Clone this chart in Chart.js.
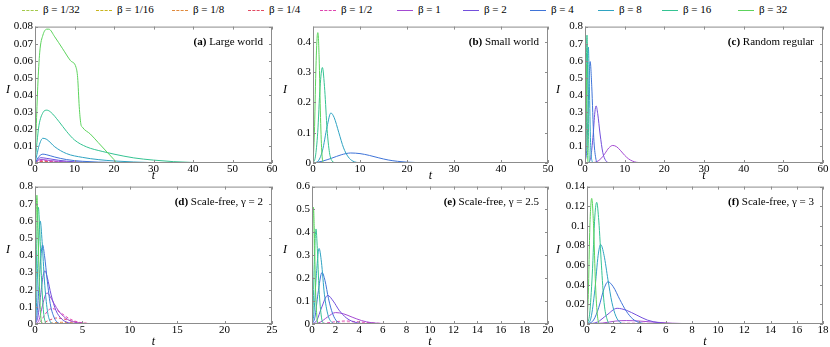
<!DOCTYPE html>
<html>
<head>
<meta charset="utf-8">
<script src="https://cdn.jsdelivr.net/npm/chart.js@4"></script>
<style>
  body { margin: 0; background: #fff; }
  #wrap { position: relative; width: 830px; height: 347px; overflow: hidden; }
  canvas { position: absolute; }
  #legend { position: absolute; left: 0; top: 1px; width: 830px; height: 16px; font: 11px "Liberation Serif", serif; }
  .item { position: absolute; top: 0; white-space: nowrap; line-height: 16px; }
  .swatch { display: inline-block; width: 16px; height: 0; border-top: 1px solid; vertical-align: middle; margin-right: 5px; }
</style>
</head>
<body>
<div id="wrap">
  <div id="legend"></div>
  <canvas id="pa" width="280" height="165" style="left:0;top:18px"></canvas>
  <canvas id="pb" width="277" height="165" style="left:277px;top:18px"></canvas>
  <canvas id="pc" width="280" height="165" style="left:550px;top:18px"></canvas>
  <canvas id="pd" width="280" height="169" style="left:0;top:178px"></canvas>
  <canvas id="pe" width="277" height="169" style="left:277px;top:178px"></canvas>
  <canvas id="pf" width="280" height="169" style="left:550px;top:178px"></canvas>
</div>
<script>
// series order: beta = 1/32, 1/16, 1/8, 1/4, 1/2, 1, 2, 4, 8, 16, 32
const betas = ["β = 1/32", "β = 1/16", "β = 1/8", "β = 1/4", "β = 1/2", "β = 1", "β = 2", "β = 4", "β = 8", "β = 16", "β = 32"];

// each series is a list of [t, I] points
const largeWorld = [
  [[0,0],[1,0.0003],[3,0.0004],[6,0.0002],[15,0],[60,0]],
  [[0,0],[1,0.0004],[3,0.0006],[6,0.0003],[15,0],[60,0]],
  [[0,0],[1,0.0006],[2.5,0.0008],[6,0.0004],[15,0.0001],[60,0]],
  [[0,0],[1,0.0008],[2,0.0011],[5,0.0006],[15,0.0001],[60,0]],
  [[0,0],[1,0.0012],[2,0.0015],[5,0.0008],[15,0.0001],[60,0]],
  [[0,0],[0.7,0.0015],[1.5,0.0021],[4,0.0014],[8,0.0006],[15,0.0001],[60,0]],
  [[0,0],[0.7,0.002],[1.5,0.0031],[3,0.0027],[6,0.0016],[10,0.0007],[20,0.0001],[60,0]],
  [[0,0],[0.5,0.002],[1,0.0038],[2,0.0052],[3,0.0048],[5,0.0035],[8,0.002],[12,0.001],[20,0.0003],[30,0],[60,0]],
  [[0,0],[0.5,0.005],[1,0.01],[2,0.0145],[3,0.0138],[5,0.0095],[8,0.0055],[12,0.0033],[16,0.002],[20,0.0012],[25,0.0006],[30,0.0002],[40,0],[60,0]],
  [[0,0],[0.5,0.012],[1,0.022],[2,0.0295],[3,0.031],[4,0.0298],[6,0.0245],[8,0.0185],[10,0.0135],[13,0.0095],[17,0.0068],[20,0.0052],[25,0.003],[30,0.0017],[35,0.0008],[40,0.0003],[45,0],[60,0]],
  [[0,0],[0.3,0.02],[0.7,0.045],[1.2,0.065],[2,0.075],[3,0.0785],[3.5,0.0785],[5,0.074],[7,0.067],[9,0.06],[10.4,0.056],[10.8,0.05],[11.2,0.033],[11.6,0.023],[12,0.021],[14,0.017],[16,0.012],[18,0.007],[20,0.002],[20.8,0],[60,0]]
];

const smallWorld = [
  [[0,0],[10,0.0002],[25,0.0001],[50,0]],
  [[0,0],[10,0.0003],[25,0.0001],[50,0]],
  [[0,0],[10,0.0004],[25,0.0002],[50,0]],
  [[0,0],[10,0.0006],[25,0.0003],[50,0]],
  [[0,0],[10,0.0008],[25,0.0004],[50,0.0001]],
  [[0,0],[10,0.001],[25,0.0006],[50,0.0002]],
  [[0,0],[10,0.0015],[20,0.0015],[30,0.001],[40,0.0005],[50,0.0002]],
  [[0,0],[2,0.006],[4,0.016],[6,0.027],[8,0.033],[10,0.031],[12,0.025],[14,0.017],[16,0.01],[18,0.0055],[20,0.0028],[24,0.0008],[30,0.0001],[35,0],[50,0]],
  [[0,0],[1,0.005],[2,0.04],[3,0.12],[3.8,0.165],[4.5,0.15],[5.5,0.1],[6.5,0.05],[7.5,0.02],[8.5,0.006],[10,0.001],[12,0],[50,0]],
  [[0,0],[0.5,0.02],[1,0.1],[1.5,0.25],[2,0.315],[2.5,0.24],[3,0.11],[3.5,0.035],[4,0.008],[5,0],[50,0]],
  [[0,0],[0.3,0.1],[0.6,0.3],[0.9,0.42],[1.05,0.43],[1.3,0.35],[1.6,0.15],[1.9,0.03],[2.3,0],[50,0]]
];

const randomRegular = [
  [[0,0],[60,0]],
  [[0,0],[60,0]],
  [[0,0],[60,0]],
  [[0,0],[10,0.0002],[60,0]],
  [[0,0],[15,0.0005],[30,0.0002],[60,0]],
  [[0,0],[2,0.002],[3,0.008],[4,0.025],[5,0.055],[6,0.088],[7,0.103],[8,0.095],[9,0.072],[10,0.045],[11,0.024],[12,0.011],[13,0.004],[15,0.001],[17,0],[60,0]],
  [[0,0],[1,0.005],[1.5,0.04],[2,0.15],[2.5,0.3],[2.8,0.335],[3.2,0.29],[3.8,0.17],[4.5,0.06],[5.2,0.015],[6,0.002],[7,0],[60,0]],
  [[0,0],[0.5,0.1],[0.9,0.4],[1.3,0.595],[1.7,0.45],[2.2,0.15],[2.7,0.03],[3.2,0],[60,0]],
  [[0,0],[0.3,0.15],[0.6,0.55],[0.85,0.68],[1.1,0.45],[1.4,0.12],[1.8,0.01],[2.2,0],[60,0]],
  [[0,0],[0.2,0.3],[0.5,0.75],[0.7,0.5],[0.95,0.1],[1.2,0.005],[1.5,0],[60,0]],
  [[0,0],[0.1,0.3],[0.25,0.58],[0.4,0.35],[0.6,0.08],[0.8,0],[60,0]]
];

const scaleFree2 = [
  [[0,0],[3,0.0005],[5,0.001],[8,0.0005],[15,0],[25,0]],
  [[0,0],[2,0.001],[3.5,0.003],[5,0.002],[8,0.0005],[12,0],[25,0]],
  [[0,0],[1.5,0.004],[2.8,0.01],[4,0.007],[5.5,0.003],[8,0],[25,0]],
  [[0,0],[0.8,0.005],[1.5,0.022],[2.3,0.035],[3,0.03],[3.8,0.018],[4.5,0.009],[5.5,0.003],[7,0],[25,0]],
  [[0,0],[0.5,0.01],[1,0.05],[1.4,0.08],[1.8,0.09],[2.2,0.083],[2.8,0.062],[3.5,0.035],[4.2,0.017],[5,0.007],[6,0.002],[7,0],[25,0]],
  [[0,0],[0.4,0.02],[0.8,0.11],[1.1,0.17],[1.3,0.18],[1.6,0.16],[2,0.12],[2.5,0.075],[3,0.045],[3.5,0.025],[4,0.013],[5,0.004],[6,0.001],[7,0],[25,0]],
  [[0,0],[0.3,0.04],[0.6,0.17],[0.85,0.28],[1.05,0.31],[1.3,0.27],[1.7,0.17],[2.2,0.08],[2.8,0.03],[3.5,0.008],[4.5,0.001],[5,0],[25,0]],
  [[0,0],[0.2,0.05],[0.4,0.2],[0.6,0.38],[0.8,0.46],[1,0.4],[1.3,0.25],[1.6,0.12],[2,0.04],[2.4,0.008],[3,0],[25,0]],
  [[0,0],[0.15,0.1],[0.3,0.35],[0.55,0.6],[0.75,0.48],[1,0.25],[1.3,0.08],[1.6,0.015],[2,0],[25,0]],
  [[0,0],[0.1,0.2],[0.2,0.5],[0.35,0.68],[0.5,0.55],[0.7,0.25],[0.9,0.07],[1.1,0.01],[1.3,0],[25,0]],
  [[0,0],[0.1,0.55],[0.2,0.75],[0.3,0.6],[0.45,0.25],[0.6,0.05],[0.8,0],[25,0]]
];

const scaleFree25 = [
  [[0,0],[4,0.0005],[8,0.0003],[14,0],[20,0]],
  [[0,0],[3,0.0008],[6,0.0005],[12,0],[20,0]],
  [[0,0],[3,0.0012],[6,0.0008],[12,0.0001],[20,0]],
  [[0,0],[2,0.002],[3.5,0.003],[5,0.002],[8,0.0005],[12,0],[20,0]],
  [[0,0],[1,0.003],[2,0.01],[2.8,0.013],[3.8,0.01],[5,0.005],[6.5,0.0015],[8,0],[20,0]],
  [[0,0],[0.7,0.008],[1.3,0.03],[2,0.05],[2.7,0.044],[3.4,0.03],[4.2,0.015],[5,0.006],[6,0.002],[7.5,0],[20,0]],
  [[0,0],[0.4,0.015],[0.8,0.07],[1.33,0.125],[1.8,0.1],[2.3,0.06],[2.9,0.027],[3.5,0.01],[4.2,0.002],[5,0],[20,0]],
  [[0,0],[0.25,0.03],[0.5,0.13],[0.85,0.225],[1.1,0.19],[1.4,0.11],[1.75,0.045],[2.1,0.012],[2.6,0.001],[3,0],[20,0]],
  [[0,0],[0.15,0.04],[0.35,0.2],[0.6,0.33],[0.8,0.27],[1.05,0.13],[1.35,0.04],[1.7,0.006],[2,0],[20,0]],
  [[0,0],[0.1,0.08],[0.2,0.28],[0.34,0.415],[0.45,0.33],[0.6,0.15],[0.8,0.03],[1,0.003],[1.2,0],[20,0]],
  [[0,0],[0.06,0.35],[0.12,0.51],[0.2,0.4],[0.3,0.15],[0.42,0.03],[0.55,0],[20,0]]
];

const scaleFree3 = [
  [[0,0],[5,0.0002],[10,0],[18,0]],
  [[0,0],[4,0.0003],[9,0.0001],[18,0]],
  [[0,0],[4,0.0004],[9,0.0001],[18,0]],
  [[0,0],[3.5,0.0005],[7,0.0002],[12,0],[18,0]],
  [[0,0],[2,0.0005],[3.5,0.0008],[5,0.0006],[8,0.0002],[12,0],[18,0]],
  [[0,0],[1.2,0.001],[2.2,0.003],[3,0.0035],[4,0.003],[5,0.002],[6.5,0.0008],[8,0.0002],[10,0],[18,0]],
  [[0,0],[0.8,0.002],[1.5,0.009],[2.3,0.016],[3,0.014],[3.8,0.009],[4.6,0.004],[5.5,0.0013],[6.5,0.0002],[7,0],[18,0]],
  [[0,0],[0.5,0.004],[0.9,0.017],[1.3,0.036],[1.6,0.043],[2,0.038],[2.5,0.025],[3,0.013],[3.5,0.005],[4,0.0015],[4.6,0],[18,0]],
  [[0,0],[0.3,0.006],[0.6,0.035],[0.85,0.07],[1.04,0.081],[1.3,0.07],[1.6,0.045],[1.9,0.022],[2.2,0.008],[2.6,0.001],[3,0],[18,0]],
  [[0,0],[0.2,0.01],[0.4,0.05],[0.6,0.11],[0.74,0.124],[0.9,0.105],[1.1,0.06],[1.3,0.022],[1.55,0.004],[1.8,0],[18,0]],
  [[0,0],[0.1,0.03],[0.22,0.1],[0.36,0.128],[0.5,0.1],[0.65,0.04],[0.8,0.008],[1,0],[18,0]]
];

// axis ticks
const ticksA = { x: [0,10,20,30,40,50,60], y: [0,0.01,0.02,0.03,0.04,0.05,0.06,0.07,0.08] };
const ticksB = { x: [0,10,20,30,40,50], y: [0,0.1,0.2,0.3,0.4] };
const ticksC = { x: [0,10,20,30,40,50,60], y: [0,0.1,0.2,0.3,0.4,0.5,0.6,0.7,0.8] };
const ticksD = { x: [0,5,10,15,20,25], y: [0,0.1,0.2,0.3,0.4,0.5,0.6,0.7,0.8] };
const ticksE = { x: [0,2,4,6,8,10,12,14,16,18,20], y: [0,0.1,0.2,0.3,0.4,0.5,0.6] };
const ticksF = { x: [0,2,4,6,8,10,12,14,16,18], y: [0,0.02,0.04,0.06,0.08,0.1,0.12,0.14] };

const colors = ["#a3c94a", "#c9b51e", "#e08a3c", "#e24a62", "#df45b0", "#a44ad2", "#7350dc", "#3f74d8", "#2fa3c2", "#35c392", "#5cd35c"];
const dashed = [true, true, true, true, true, false, false, false, false, false, false];
const SERIF = '"Liberation Serif", "Times New Roman", serif';

// legend
const legendLefts = [22, 96, 172, 248, 320, 397, 463, 530, 598, 662, 738];
const legend = document.getElementById("legend");
betas.forEach((b, i) => {
  const d = document.createElement("div");
  d.className = "item";
  d.style.left = legendLefts[i] + "px";
  d.innerHTML = '<span class="swatch" style="border-top-color:' + colors[i] + ';border-top-style:' + (dashed[i] ? "dashed" : "solid") + '"></span>' + b;
  legend.appendChild(d);
});

// frame, inward ticks, axis titles and panel label
const framePlugin = {
  id: "frame",
  afterDraw(chart) {
    const { ctx, chartArea: a, scales } = chart;
    const o = chart.options.plugins.frame;
    ctx.save();
    ctx.strokeStyle = "#8c8c8c";
    ctx.lineWidth = 1;
    ctx.strokeRect(a.left + 0.5, a.top + 0.5, a.right - a.left - 1, a.bottom - a.top - 1);
    ctx.beginPath();
    scales.x.ticks.forEach(t => {
      const px = Math.round(scales.x.getPixelForValue(t.value)) + 0.5;
      ctx.moveTo(px, a.bottom); ctx.lineTo(px, a.bottom - 3);
      ctx.moveTo(px, a.top); ctx.lineTo(px, a.top + 3);
    });
    scales.y.ticks.forEach(t => {
      const py = Math.round(scales.y.getPixelForValue(t.value)) + 0.5;
      ctx.moveTo(a.left, py); ctx.lineTo(a.left + 3, py);
      ctx.moveTo(a.right, py); ctx.lineTo(a.right - 3, py);
    });
    ctx.stroke();
    ctx.fillStyle = "#000";
    ctx.font = "italic 12px " + SERIF;
    ctx.textAlign = "center";
    ctx.textBaseline = "middle";
    ctx.fillText("t", (a.left + a.right) / 2, a.bottom + o.tOffset);
    ctx.fillText("I", 8, (a.top + a.bottom) / 2 - 5);
    // panel label, bold letter part
    ctx.textAlign = "left";
    ctx.font = "bold 11px " + SERIF;
    const w1 = ctx.measureText(o.tag + " ").width;
    ctx.font = "11px " + SERIF;
    const w2 = ctx.measureText(o.title).width;
    const x0 = a.right - 9 - w1 - w2;
    const y0 = a.top + 16;
    ctx.font = "bold 11px " + SERIF;
    ctx.fillText(o.tag + " ", x0, y0);
    ctx.font = "11px " + SERIF;
    ctx.fillText(o.title, x0 + w1, y0);
    ctx.restore();
  }
};

function makePanel(id, series, ticks, xMax, yMax, tag, title, lay) {
  const datasets = series.map((pts, i) => ({
    label: betas[i],
    data: pts.map(p => ({ x: p[0], y: p[1] })),
    borderColor: colors[i],
    borderWidth: 1,
    borderDash: dashed[i] ? [3, 2] : [],
    pointRadius: 0,
    cubicInterpolationMode: "monotone",
    fill: false,
    order: betas.length - i
  }));
  new Chart(document.getElementById(id), {
    type: "line",
    data: { datasets },
    plugins: [framePlugin],
    options: {
      responsive: false,
      animation: false,
      layout: { padding: { top: lay.padTop, right: lay.padRight, left: 0, bottom: 0 } },
      plugins: {
        legend: { display: false },
        tooltip: { enabled: false },
        frame: { tag, title, tOffset: lay.tOffset }
      },
      scales: {
        x: {
          type: "linear",
          min: 0,
          max: xMax,
          grid: { display: false, drawTicks: false, tickLength: 0 },
          border: { display: false },
          afterBuildTicks: s => { s.ticks = ticks.x.map(v => ({ value: v })); },
          afterFit: s => { s.height = lay.xAxisH; },
          ticks: { color: "#000", padding: 0, maxRotation: 0, autoSkip: false, font: { family: SERIF, size: 11 }, callback: v => String(v) }
        },
        y: {
          min: 0,
          max: yMax,
          grid: { display: false, drawTicks: false, tickLength: 0 },
          border: { display: false },
          afterBuildTicks: s => { s.ticks = ticks.y.map(v => ({ value: v })); },
          afterFit: s => { s.width = lay.yAxisW; },
          ticks: { color: "#000", padding: 2, autoSkip: false, font: { family: SERIF, size: 11 }, callback: v => String(v) }
        }
      }
    }
  });
}

makePanel("pa", largeWorld, ticksA, 60, 0.08, "(a)", "Large world", { padTop: 5, padRight: 8, xAxisH: 20, yAxisW: 35, tOffset: 13 });
makePanel("pb", smallWorld, ticksB, 50, 0.45, "(b)", "Small world", { padTop: 5, padRight: 6, xAxisH: 20, yAxisW: 36, tOffset: 13 });
makePanel("pc", randomRegular, ticksC, 60, 0.8, "(c)", "Random regular", { padTop: 6, padRight: 7, xAxisH: 20, yAxisW: 35, tOffset: 13 });
makePanel("pd", scaleFree2, ticksD, 25, 0.8, "(d)", "Scale-free, γ = 2", { padTop: 6, padRight: 8, xAxisH: 23, yAxisW: 35, tOffset: 18 });
makePanel("pe", scaleFree25, ticksE, 20, 0.6, "(e)", "Scale-free, γ = 2.5", { padTop: 7, padRight: 6, xAxisH: 23, yAxisW: 35, tOffset: 18 });
makePanel("pf", scaleFree3, ticksF, 18, 0.14, "(f)", "Scale-free, γ = 3", { padTop: 8, padRight: 7, xAxisH: 23, yAxisW: 37, tOffset: 18 });
</script>
</body>
</html>
